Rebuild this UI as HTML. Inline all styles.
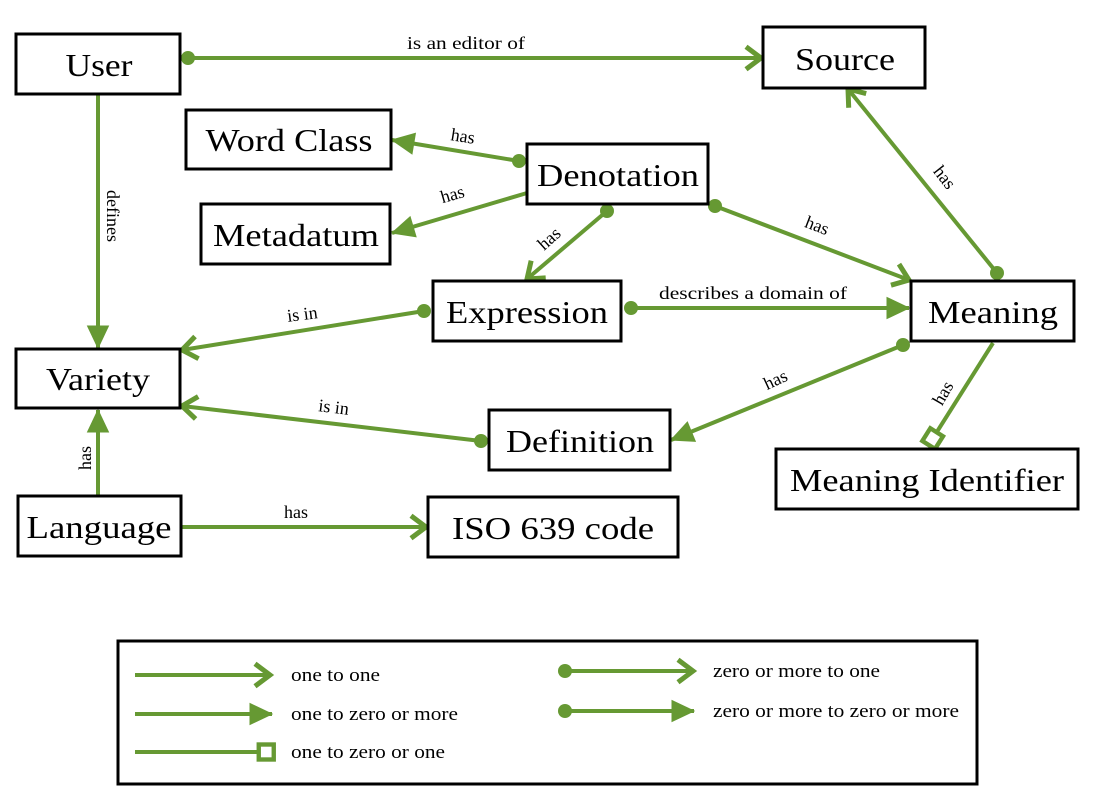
<!DOCTYPE html>
<html><head><meta charset="utf-8"><style>
html,body{margin:0;padding:0;background:#fff;}
svg{display:block;}
text{font-family:"Liberation Serif",serif;fill:#000;}
.n{font-size:32px;text-anchor:middle;}
.l{font-size:18px;text-anchor:middle;}
.lg{font-size:19px;}
.b{fill:#fff;stroke:#000;stroke-width:3;}
.e{stroke:#669933;stroke-width:4;fill:none;}
.d{fill:#669933;}
</style></head><body>
<svg width="1100" height="802" viewBox="0 0 1100 802" xmlns="http://www.w3.org/2000/svg">
<defs>
<marker id="o" markerUnits="userSpaceOnUse" markerWidth="30" markerHeight="30" viewBox="-16 -12 20 24" refX="0" refY="0" orient="auto"><path d="M-12,-9 L0,0 L-12,9" fill="none" stroke="#669933" stroke-width="4"/></marker>
<marker id="f" markerUnits="userSpaceOnUse" markerWidth="30" markerHeight="30" viewBox="-20 -12 22 24" refX="0" refY="0" orient="auto"><path d="M-18,-9 L1,0 L-18,9 z" fill="#669933"/></marker>
<marker id="s" markerUnits="userSpaceOnUse" markerWidth="30" markerHeight="30" viewBox="-18 -12 22 24" refX="0" refY="0" orient="auto"><rect x="-13" y="-6" width="12" height="12" fill="#fff" stroke="#669933" stroke-width="3.5"/></marker>
</defs>

<!-- edges -->
<line class="e" x1="188" y1="58" x2="761" y2="58" marker-end="url(#o)"/><circle class="d" cx="188" cy="58" r="7"/>
<text class="l" x="466" y="49" textLength="118" lengthAdjust="spacingAndGlyphs">is an editor of</text>

<line class="e" x1="98" y1="94" x2="98" y2="348" marker-end="url(#f)"/>
<text class="l" transform="translate(107,216) rotate(90)">defines</text>

<line class="e" x1="519" y1="161" x2="392" y2="140" marker-end="url(#f)"/><circle class="d" cx="519" cy="161" r="7"/>
<text class="l" transform="translate(462,142) rotate(9)">has</text>

<line class="e" x1="527" y1="193" x2="392" y2="233" marker-end="url(#f)"/>
<text class="l" transform="translate(454,200) rotate(-16)">has</text>

<line class="e" x1="607" y1="211" x2="527" y2="279" marker-end="url(#o)"/><circle class="d" cx="607" cy="211" r="7"/>
<text class="l" transform="translate(553,243) rotate(-42)">has</text>

<line class="e" x1="715" y1="206" x2="909" y2="280" marker-end="url(#o)"/><circle class="d" cx="715" cy="206" r="7"/>
<text class="l" transform="translate(815,231) rotate(21)">has</text>

<line class="e" x1="997" y1="273" x2="848" y2="89" marker-end="url(#o)"/><circle class="d" cx="997" cy="273" r="7"/>
<text class="l" transform="translate(940,181) rotate(52)">has</text>

<line class="e" x1="424" y1="311" x2="182" y2="350" marker-end="url(#o)"/><circle class="d" cx="424" cy="311" r="7"/>
<text class="l" transform="translate(303,320) rotate(-7)">is in</text>

<line class="e" x1="631" y1="308" x2="909" y2="308" marker-end="url(#f)"/><circle class="d" cx="631" cy="308" r="7"/>
<text class="l" x="753" y="299" textLength="188" lengthAdjust="spacingAndGlyphs">describes a domain of</text>

<line class="e" x1="903" y1="345" x2="671" y2="440" marker-end="url(#f)"/><circle class="d" cx="903" cy="345" r="7"/>
<text class="l" transform="translate(778,385) rotate(-25)">has</text>

<line class="e" x1="993" y1="343" x2="928" y2="446" marker-end="url(#s)"/>
<text class="l" transform="translate(948,396) rotate(-60)">has</text>

<line class="e" x1="481" y1="441" x2="182" y2="406" marker-end="url(#o)"/><circle class="d" cx="481" cy="441" r="7"/>
<text class="l" transform="translate(333,413) rotate(7)">is in</text>

<line class="e" x1="98" y1="495" x2="98" y2="410" marker-end="url(#f)"/>
<text class="l" transform="translate(91,458) rotate(-90)">has</text>

<line class="e" x1="182" y1="527" x2="426" y2="527" marker-end="url(#o)"/>
<text class="l" x="296" y="518">has</text>

<!-- nodes -->
<rect class="b" x="16" y="34" width="164" height="60"/><text class="n" x="99" y="76" textLength="67" lengthAdjust="spacingAndGlyphs">User</text>
<rect class="b" x="763" y="27" width="162" height="61"/><text class="n" x="845" y="70" textLength="100" lengthAdjust="spacingAndGlyphs">Source</text>
<rect class="b" x="186" y="110" width="205" height="59"/><text class="n" x="289" y="151" textLength="167" lengthAdjust="spacingAndGlyphs">Word Class</text>
<rect class="b" x="527" y="144" width="181" height="60"/><text class="n" x="618" y="186" textLength="162" lengthAdjust="spacingAndGlyphs">Denotation</text>
<rect class="b" x="201" y="204" width="189" height="60"/><text class="n" x="296" y="246" textLength="166" lengthAdjust="spacingAndGlyphs">Metadatum</text>
<rect class="b" x="433" y="281" width="188" height="60"/><text class="n" x="527" y="323" textLength="162" lengthAdjust="spacingAndGlyphs">Expression</text>
<rect class="b" x="911" y="281" width="163" height="60"/><text class="n" x="993" y="323" textLength="130" lengthAdjust="spacingAndGlyphs">Meaning</text>
<rect class="b" x="16" y="349" width="164" height="59"/><text class="n" x="98" y="390" textLength="104" lengthAdjust="spacingAndGlyphs">Variety</text>
<rect class="b" x="489" y="410" width="181" height="60"/><text class="n" x="580" y="452" textLength="148" lengthAdjust="spacingAndGlyphs">Definition</text>
<rect class="b" x="776" y="449" width="302" height="60"/><text class="n" x="927" y="491" textLength="274" lengthAdjust="spacingAndGlyphs">Meaning Identifier</text>
<rect class="b" x="18" y="496" width="163" height="60"/><text class="n" x="99" y="538" textLength="145" lengthAdjust="spacingAndGlyphs">Language</text>
<rect class="b" x="428" y="497" width="250" height="60"/><text class="n" x="553" y="539" textLength="202" lengthAdjust="spacingAndGlyphs">ISO 639 code</text>

<!-- legend -->
<rect class="b" x="118" y="641" width="859" height="143"/>
<line class="e" x1="135" y1="675" x2="270" y2="675" marker-end="url(#o)"/>
<text class="lg" x="291" y="681" textLength="89" lengthAdjust="spacingAndGlyphs">one to one</text>
<line class="e" x1="135" y1="714" x2="272" y2="714" marker-end="url(#f)"/>
<text class="lg" x="291" y="720" textLength="167" lengthAdjust="spacingAndGlyphs">one to zero or more</text>
<line class="e" x1="135" y1="752" x2="275" y2="752" marker-end="url(#s)"/>
<text class="lg" x="291" y="758" textLength="154" lengthAdjust="spacingAndGlyphs">one to zero or one</text>
<line class="e" x1="565" y1="671" x2="693" y2="671" marker-end="url(#o)"/><circle class="d" cx="565" cy="671" r="7"/>
<text class="lg" x="713" y="677" textLength="167" lengthAdjust="spacingAndGlyphs">zero or more to one</text>
<line class="e" x1="565" y1="711" x2="694" y2="711" marker-end="url(#f)"/><circle class="d" cx="565" cy="711" r="7"/>
<text class="lg" x="713" y="717" textLength="246" lengthAdjust="spacingAndGlyphs">zero or more to zero or more</text>
</svg>
</body></html>
